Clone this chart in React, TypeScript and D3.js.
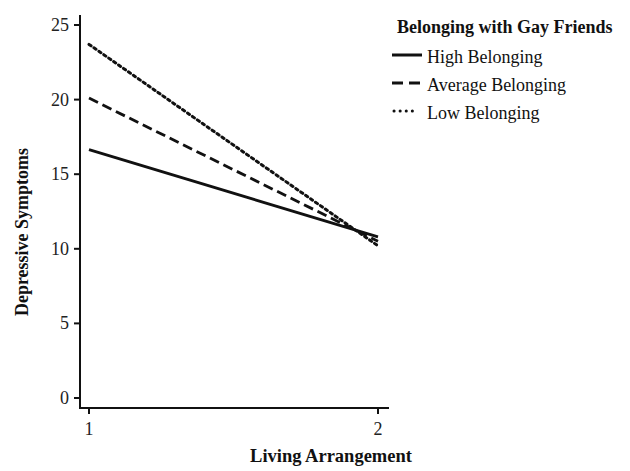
import React from "react";
import * as d3 from "d3";

const xValues = [1, 2];
const seriesNames = ["High Belonging", "Average Belonging", "Low Belonging"];
const highValues = [16.65, 10.8];
const averageValues = [20.1, 10.5];
const lowValues = [23.7, 10.2];
const yTicks = [0, 5, 10, 15, 20, 25];
const xTicks = [1, 2];
const legendTitle = "Belonging with Gay Friends";
const xTitle = "Living Arrangement";
const yTitle = "Depressive Symptoms";

const dashes = ["none", "10,5", "2.5,3.5"];

export default function App() {
  const W = 630, H = 471;
  const x = d3.scaleLinear().domain([1, 2]).range([89, 378]);
  const y = d3.scaleLinear().domain([0, 25]).range([398, 25]);
  const line = d3.line<number>().x((_, i) => x(xValues[i])).y((d) => y(d));
  const series = [highValues, averageValues, lowValues];
  const font = "'Liberation Serif', 'Times New Roman', serif";
  return (
    <svg width={W} height={H} style={{ position: "absolute", left: 0, top: 0, background: "#fff" }} fontFamily={font}>
      {/* axes */}
      <line x1={80} x2={80} y1={15} y2={409} stroke="#111" strokeWidth={2} />
      <line x1={79} x2={389} y1={408} y2={408} stroke="#111" strokeWidth={2} />
      {yTicks.map((t) => (
        <g key={t}>
          <line x1={74} x2={80} y1={y(t)} y2={y(t)} stroke="#111" strokeWidth={2} />
          <text x={69} y={y(t) + 6} textAnchor="end" fontSize={18} fill="#222">{t}</text>
        </g>
      ))}
      {xTicks.map((t) => (
        <g key={t}>
          <line x1={x(t)} x2={x(t)} y1={408} y2={414} stroke="#111" strokeWidth={2} />
          <text x={x(t)} y={435} textAnchor="middle" fontSize={18} fill="#222">{t}</text>
        </g>
      ))}
      <text x={331} y={462} textAnchor="middle" fontSize={18.5} fontWeight="bold" fill="#111">{xTitle}</text>
      <text transform={`translate(28,232) rotate(-90)`} textAnchor="middle" fontSize={18} fontWeight="bold" fill="#111">{yTitle}</text>
      {series.map((s, i) => (
        <path key={i} d={line(s) || ""} fill="none" stroke="#111" strokeWidth={i === 2 ? 3 : 2.8}
          strokeDasharray={dashes[i]} strokeLinecap={i === 2 ? "round" : "butt"} />
      ))}
      {/* legend */}
      <text x={397} y={33} fontSize={18} fontWeight="bold" fill="#111">{legendTitle}</text>
      {seriesNames.map((n, i) => {
        const cy = 55 + i * 28;
        return (
          <g key={n}>
            <line x1={i === 2 ? 394 : 392} x2={i === 2 ? 416 : 422} y1={cy} y2={cy} stroke="#111" strokeWidth={3}
              strokeDasharray={i === 0 ? "none" : i === 1 ? "11,6" : "0.1,6"} strokeLinecap={i === 2 ? "round" : "butt"} />
            <text x={427} y={cy + 8} fontSize={18} fill="#111">{n}</text>
          </g>
        );
      })}
    </svg>
  );
}
